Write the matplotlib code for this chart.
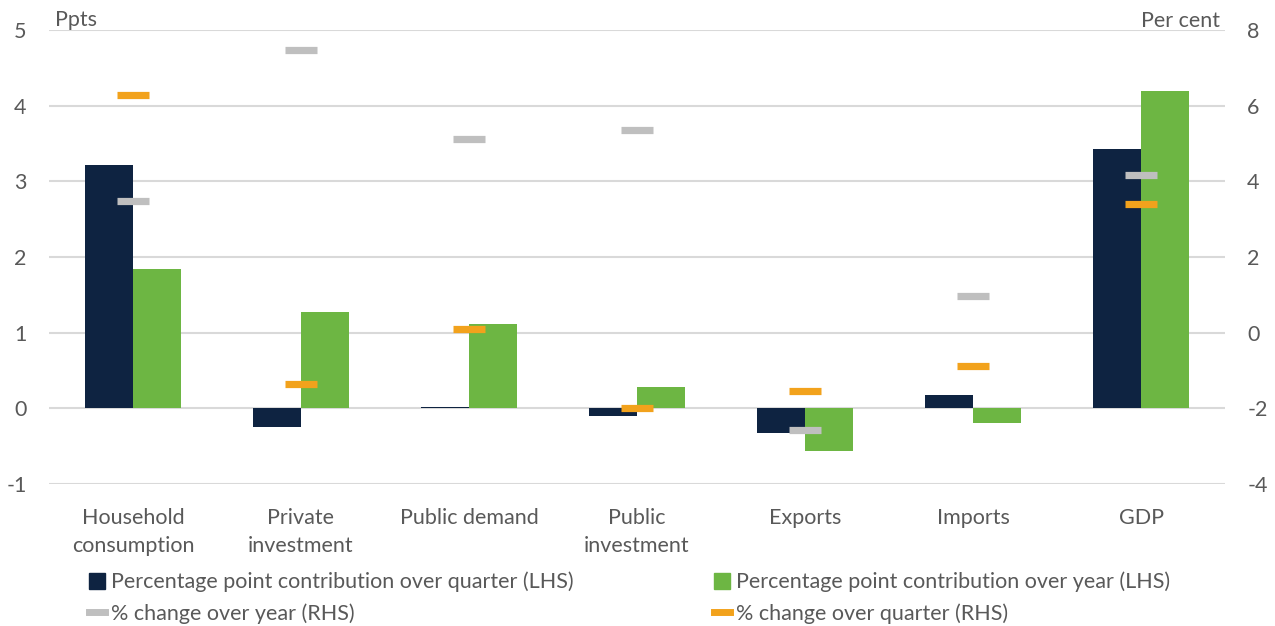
import numpy as np
import matplotlib.pyplot as plt
from matplotlib.patches import Patch
from matplotlib.lines import Line2D

plt.rcParams['font.family'] = ['Lato', 'DejaVu Sans']
plt.rcParams['axes.unicode_minus'] = False

categories = ['Household\nconsumption', 'Private\ninvestment', 'Public demand',
              'Public\ninvestment', 'Exports', 'Imports', 'GDP']
# percentage point contributions (LHS)
contrib_quarter = [3.21, -0.24, 0.02, -0.10, -0.32, 0.17, 3.43]
contrib_year = [1.84, 1.28, 1.12, 0.28, -0.57, -0.19, 4.20]
# per cent changes (RHS)
change_year = [3.47, 7.46, 5.13, 5.37, -2.57, 0.98, 4.18]
change_quarter = [6.27, -1.35, 0.10, -2.00, -1.53, -0.87, 3.41]

navy = '#0E2341'
green = '#6DB643'
grey = '#BFBFBF'
orange = '#F2A21C'
txt = '#595959'
fs = 15.5

fig = plt.figure(figsize=(12.75, 6.26), dpi=100)
ax = fig.add_axes([0.0384, 0.2268, 0.9224, 0.7252])
ax2 = ax.twinx()

x = np.arange(len(categories))
w = 0.286
ax.bar(x - w/2, contrib_quarter, w, color=navy, zorder=2)
ax.bar(x + w/2, contrib_year, w, color=green, zorder=2)

ax.set_ylim(-1, 5)
ax.set_yticks(range(-1, 6))
ax.set_xlim(-0.5, 6.5)
ax.grid(axis='y', color='#D9D9D9', lw=1.5, zorder=0)
ax.set_axisbelow(True)
for s in ax.spines.values():
    s.set_visible(False)
for s in ax2.spines.values():
    s.set_visible(False)

ax2.set_ylim(-4, 8)
ax2.set_yticks(range(-4, 9, 2))
ax2.plot(x, change_year, ls='none', marker='_', ms=22.5, mew=5.2, color=grey, zorder=3)
ax2.plot(x, change_quarter, ls='none', marker='_', ms=22.5, mew=5.2, color=orange, zorder=3)

ax.set_xticks(x)
ax.set_xticklabels(categories, fontsize=fs, color=txt, linespacing=1.55)
ax.tick_params(axis='x', length=0, pad=17)
ax.tick_params(axis='y', length=0, labelsize=fs, labelcolor=txt, pad=16)
ax2.tick_params(axis='y', length=0, labelsize=fs, labelcolor=txt, pad=16)

fig.text(55/1275, 1 - 20/626, 'Ppts', fontsize=fs, color=txt, va='center', ha='left')
fig.text(1220/1275, 1 - 21/626, 'Per cent', fontsize=fs, color=txt, va='center', ha='right')

h_q = Patch(color=navy)
h_y = Patch(color=green)
h_cy = Line2D([], [], color=grey, lw=5)
h_cq = Line2D([], [], color=orange, lw=5)
leg_kw = dict(loc='upper left', frameon=False, fontsize=fs, handlelength=0.75,
              handleheight=0.75, handletextpad=0.3, labelspacing=0.5,
              labelcolor=txt, borderaxespad=0)
fig.legend([h_q, h_cy],
           ['Percentage point contribution over quarter (LHS)', '% change over year (RHS)'],
           bbox_to_anchor=(80/1275, 1 - 563/626), **leg_kw)
fig.legend([h_y, h_cq],
           ['Percentage point contribution over year (LHS)', '% change over quarter (RHS)'],
           bbox_to_anchor=(705/1275, 1 - 563/626), **leg_kw)

fig.savefig('out.png', dpi=100)
